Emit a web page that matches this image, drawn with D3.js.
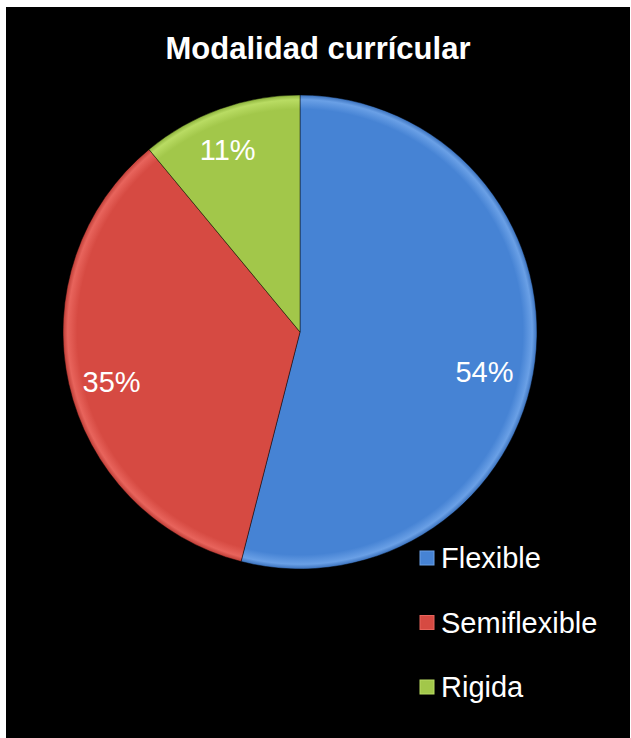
<!DOCTYPE html>
<html>
<head>
<meta charset="utf-8">
<script src="https://cdn.jsdelivr.net/npm/d3@7"></script>
<style>
html,body{margin:0;padding:0;background:#fff;}
svg{display:block;}
</style>
</head>
<body>
<svg id="chart" width="631" height="738"></svg>
<script>
const title = "Modalidad currícular";
const categories = ["Flexible", "Semiflexible", "Rigida"];
const values = [54, 35, 11];
const labels = ["54%", "35%", "11%"];
const colors = ["#4683d4", "#d64a42", "#a2c74a"];
const lightColors = ["#6aa0e6", "#e8645c", "#b9dc63"];
const darkColors = ["#3a71bd", "#bd3c35", "#8cb23b"];

const svg = d3.select("#chart");
const W = 631, H = 738;
const font = "'Liberation Sans', Arial, sans-serif";

svg.append("rect").attr("x", 6).attr("y", 7).attr("width", W - 6 - 1).attr("height", H - 7).attr("fill", "#000");

svg.append("text")
  .attr("x", 318).attr("y", 59)
  .attr("text-anchor", "middle")
  .attr("fill", "#fff")
  .attr("font-family", font)
  .attr("font-weight", "bold")
  .attr("font-size", 31)
  .text(title);

const defs = svg.append("defs");
const cx = 300, cy = 332, r = 237;
colors.forEach((c, i) => {
  const g = defs.append("radialGradient").attr("id", "g" + i)
    .attr("gradientUnits", "userSpaceOnUse")
    .attr("cx", 0).attr("cy", 0).attr("r", r);
  g.append("stop").attr("offset", "0%").attr("stop-color", c);
  g.append("stop").attr("offset", "94%").attr("stop-color", c);
  g.append("stop").attr("offset", "98%").attr("stop-color", lightColors[i]);
  g.append("stop").attr("offset", "100%").attr("stop-color", darkColors[i]);
});

const pie = d3.pie().sort(null).value(d => d)(values);
const arc = d3.arc().innerRadius(0).outerRadius(r);
const labelArc = d3.arc().innerRadius(190).outerRadius(190);

const g = svg.append("g").attr("transform", `translate(${cx},${cy})`);
g.selectAll("path.slice").data(pie).enter().append("path")
  .attr("class", "slice")
  .attr("d", arc)
  .attr("fill", (d, i) => `url(#g${i})`)
  .attr("stroke", "rgba(0,0,0,0.45)")
  .attr("stroke-width", 1);

const labelOffsets = [[-4, 16], [-3, 8], [-8, -3]];
g.selectAll("text.lbl").data(pie).enter().append("text")
  .attr("class", "lbl")
  .attr("transform", (d, i) => {
    const c = labelArc.centroid(d);
    return `translate(${c[0] + labelOffsets[i][0]},${c[1] + labelOffsets[i][1]})`;
  })
  .attr("text-anchor", "middle")
  .attr("dy", "0.35em")
  .attr("fill", "#fff")
  .attr("font-family", font)
  .attr("font-size", 29)
  .text((d, i) => labels[i]);

const legend = svg.append("g");
const ly = d3.scalePoint().domain(categories).range([558, 687]);
categories.forEach((cat, i) => {
  const y = ly(cat);
  legend.append("rect").attr("x", 420).attr("y", y - 7).attr("width", 14).attr("height", 14)
    .attr("fill", colors[i]).attr("stroke", lightColors[i]).attr("stroke-width", 1);
  legend.append("text").attr("x", 441).attr("y", y).attr("dy", "0.35em")
    .attr("fill", "#fff").attr("font-family", font).attr("font-size", 29).text(cat);
});
</script>
</body>
</html>
